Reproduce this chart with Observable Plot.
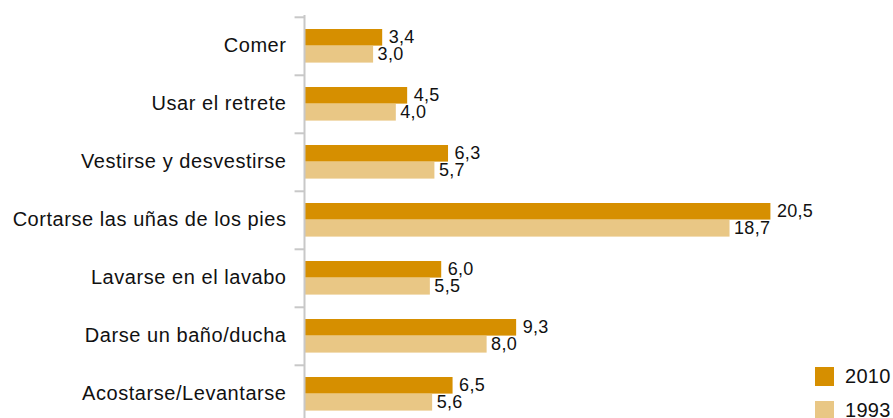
<!DOCTYPE html>
<html>
<head>
<meta charset="utf-8">
<script src="https://cdn.jsdelivr.net/npm/d3@7"></script>
<script src="https://cdn.jsdelivr.net/npm/@observablehq/plot@0.6"></script>
<style>
  html, body { margin: 0; padding: 0; background: #fff; }
  #wrap { position: relative; width: 893px; height: 418px; font-family: "Liberation Sans", Arial, Helvetica, sans-serif; }
  .legend { position: absolute; left: 815px; font-size: 20px; color: #111; display: flex; align-items: center; letter-spacing: 0.3px; }
  .legend .sw { width: 19px; height: 19px; margin-right: 11px; }
  g[aria-label="y-axis tick label"] text { letter-spacing: 0.55px; }
  g.vlabel text { letter-spacing: 0.3px; }
</style>
</head>
<body>
<div id="wrap"></div>
<script>
const categories = ["Comer", "Usar el retrete", "Vestirse y desvestirse", "Cortarse las uñas de los pies", "Lavarse en el lavabo", "Darse un baño/ducha", "Acostarse/Levantarse"];
const values2010 = [3.4, 4.5, 6.3, 20.5, 6.0, 9.3, 6.5];
const values1993 = [3.0, 4.0, 5.7, 18.7, 5.5, 8.0, 5.6];
const seriesNames = ["2010", "1993"];
const seriesColors = ["#d68f00", "#e9c785"];

const fmt = v => v.toFixed(1).replace(".", ",");
const rows2010 = categories.map((c, i) => ({cat: c, value: values2010[i]}));
const rows1993 = categories.map((c, i) => ({cat: c, value: values1993[i]}));

const chart = Plot.plot({
  width: 893,
  height: 418,
  marginTop: 15,
  marginBottom: 0,
  marginLeft: 305,
  marginRight: 0,
  style: {fontFamily: "'Liberation Sans', Arial, Helvetica, sans-serif", color: "#111", background: "#fff"},
  x: {domain: [0, 25.9], axis: null},
  y: {domain: categories, range: [15, 424], padding: 0, label: null},
  marks: [
    Plot.barX(rows2010, {y: "cat", x: "value", fill: seriesColors[0], insetTop: 12, insetBottom: 29.4}),
    Plot.barX(rows1993, {y: "cat", x: "value", fill: seriesColors[1], insetTop: 29, insetBottom: 12.4}),
    Plot.text(rows2010, {y: "cat", x: "value", text: d => fmt(d.value), textAnchor: "start", dx: 6, dy: -9, fontSize: 18, fill: "#111", className: "vlabel"}),
    Plot.text(rows1993, {y: "cat", x: "value", text: d => fmt(d.value), textAnchor: "start", dx: 4, dy: 8, fontSize: 18, fill: "#111", className: "vlabel"}),
    Plot.axisY({tickSize: 0, tickPadding: 19, fontSize: 20, fill: "#111", dy: -1}),
    Plot.ruleY(categories, {y: d => d, x1: -0.46, x2: 0, dy: -29.2, stroke: "#c8c8c8", strokeWidth: 2}),
    Plot.ruleX([0], {stroke: "#c8c8c8", strokeWidth: 2, dx: -1})
  ]
});
const wrap = document.getElementById("wrap");
wrap.appendChild(chart);

const legendTops = [365, 399];
seriesNames.forEach((name, i) => {
  const el = document.createElement("div");
  el.className = "legend";
  el.style.top = legendTops[i] + "px";
  el.innerHTML = `<span class="sw" style="background:${seriesColors[i]}"></span><span>${name}</span>`;
  wrap.appendChild(el);
});
</script>
</body>
</html>
